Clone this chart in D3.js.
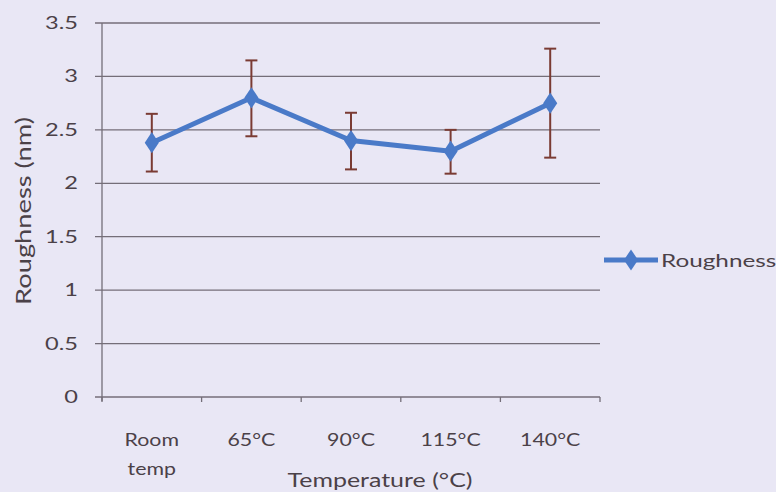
<!DOCTYPE html>
<html><head><meta charset="utf-8">
<script src="https://cdn.jsdelivr.net/npm/d3@7"></script>
<style>
body{margin:0;background:#e9e7f5;}
svg{display:block;font-family:Lato,"Open Sans",sans-serif;}
</style></head><body>
<svg id="c" width="776" height="492"></svg>
<script>
const categories = ["Room temp","65°C","90°C","115°C","140°C"];
const roughness = [2.38, 2.80, 2.40, 2.30, 2.75];
const errHigh = [2.65, 3.15, 2.66, 2.50, 3.26];
const errLow = [2.11, 2.44, 2.13, 2.09, 2.24];
const yTicks = [0,0.5,1,1.5,2,2.5,3,3.5];
const yTickLabels = ["0","0.5","1","1.5","2","2.5","3","3.5"];

const svg = d3.select("#c");
const L=102,R=600,T=23,B=397;
const textCol="#4b4148", gridCol="#746e78", lineCol="#4a7ac8", errCol="#7a3b33";
const x = d3.scaleBand().domain(categories).range([L,R]).padding(0);
const y = d3.scaleLinear().domain([0,3.5]).range([B,T]);

function txt(parent, px, py, str, size, sx, anchor, rot){
  const g = parent.append("g").attr("transform",`translate(${px},${py})${rot?` rotate(${rot})`:""} scale(${sx},1)`);
  return g.append("text").attr("text-anchor",anchor).attr("font-size",size).attr("fill",textCol).text(str);
}

// gridlines
svg.append("g").selectAll("line").data(yTicks).join("line")
  .attr("x1",L-7).attr("x2",R).attr("y1",d=>y(d)).attr("y2",d=>y(d))
  .attr("stroke",gridCol).attr("stroke-width",1.3);
// y axis line
svg.append("line").attr("x1",L).attr("x2",L).attr("y1",T).attr("y2",B+4).attr("stroke",gridCol).attr("stroke-width",1.3);
// x tick marks at boundaries
const bounds = categories.map(c=>x(c)).concat([R]);
svg.append("g").selectAll("line").data(bounds).join("line")
  .attr("x1",d=>d).attr("x2",d=>d).attr("y1",B).attr("y2",B+5).attr("stroke",gridCol).attr("stroke-width",1.3);

// y tick labels
const yl = svg.append("g");
yTicks.forEach((d,i)=>txt(yl,78,y(d)+6,yTickLabels[i],17.5,1.35,"end"));

// x tick labels
const xl = svg.append("g");
const cx = c=>x(c)+x.bandwidth()/2;
categories.forEach(c=>{
  c.split(" ").forEach((p,i)=>txt(xl,cx(c),446+i*29,p,17.5,1.22,"middle"));
});

// axis titles
txt(svg,380,487,"Temperature (°C)",19.5,1.28,"middle");
txt(svg,31,211,"Roughness (nm)",22,1.24,"middle",-90);

// error bars
const eb = svg.append("g").attr("stroke",errCol).attr("stroke-width",2);
categories.forEach((c,i)=>{
  eb.append("line").attr("x1",cx(c)).attr("x2",cx(c)).attr("y1",y(errLow[i])).attr("y2",y(errHigh[i]));
  eb.append("line").attr("x1",cx(c)-6).attr("x2",cx(c)+6).attr("y1",y(errLow[i])).attr("y2",y(errLow[i]));
  eb.append("line").attr("x1",cx(c)-6).attr("x2",cx(c)+6).attr("y1",y(errHigh[i])).attr("y2",y(errHigh[i]));
});

// line
const line = d3.line().x((d,i)=>cx(categories[i])).y(d=>y(d));
svg.append("path").datum(roughness).attr("d",line).attr("fill","none").attr("stroke",lineCol).attr("stroke-width",5).attr("stroke-linejoin","round");
const diamond = d3.symbol().type(d3.symbolDiamond).size(130);
svg.append("g").selectAll("path").data(roughness).join("path")
  .attr("transform",(d,i)=>`translate(${cx(categories[i])},${y(d)}) scale(1.15,1)`).attr("d",diamond).attr("fill",lineCol);

// legend
svg.append("line").attr("x1",604).attr("x2",658).attr("y1",260).attr("y2",260).attr("stroke",lineCol).attr("stroke-width",5);
svg.append("path").attr("transform","translate(631,260) scale(1.15,1)").attr("d",diamond).attr("fill",lineCol);
txt(svg,661,266.5,"Roughness",18,1.35,"start");
</script></body></html>
